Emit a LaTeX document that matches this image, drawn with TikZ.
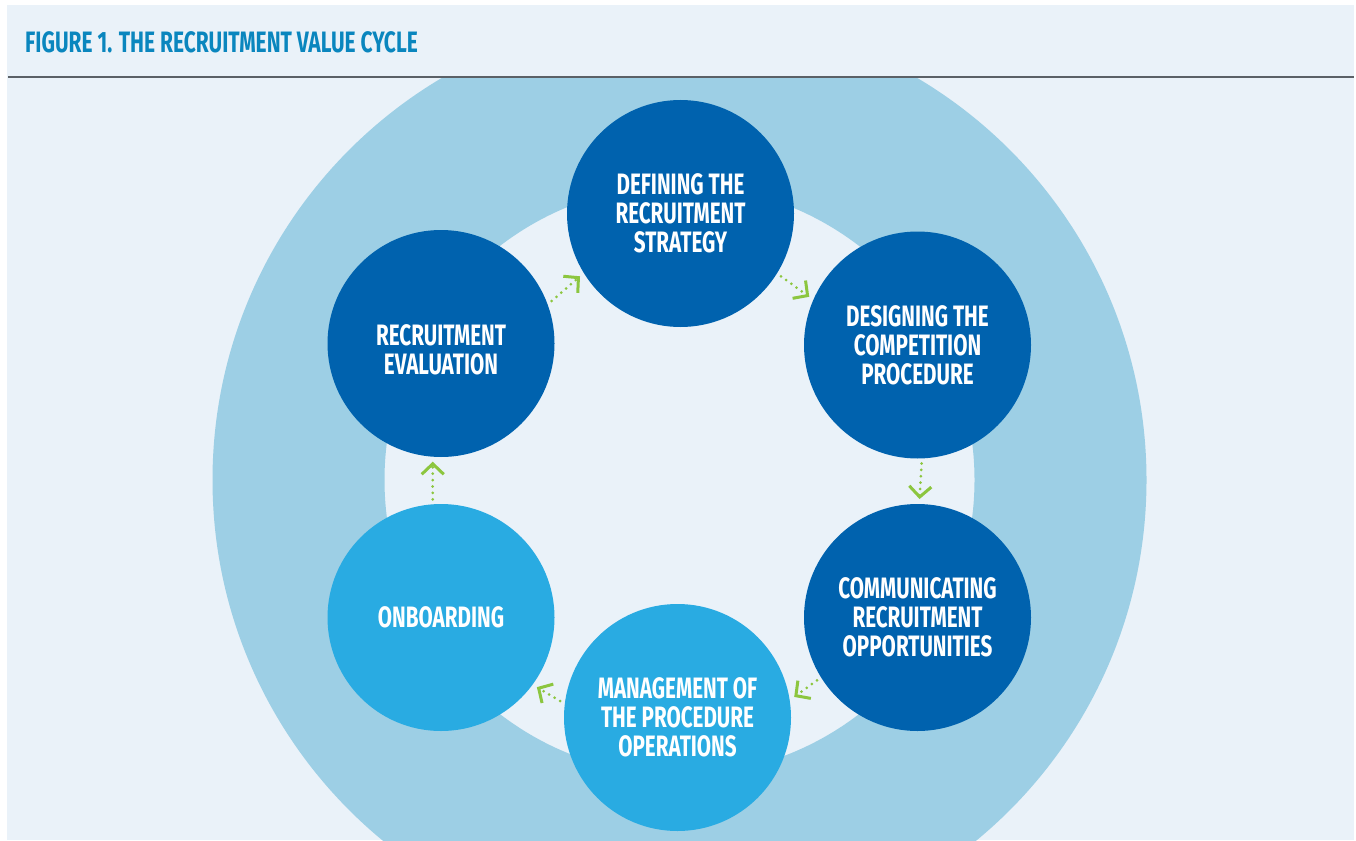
\documentclass[tikz,border=0pt]{standalone}
\usepackage{fontspec}
\setmainfont{Fira Sans}
\newfontfamily\condensed[FakeStretch=0.70]{Fira Sans}
\newfontfamily\headline[FakeStretch=0.71]{Fira Sans}
\usetikzlibrary{arrows.meta}
\definecolor{panel}{HTML}{EAF2F9}
\definecolor{ringblue}{HTML}{9DCFE5}
\definecolor{deepblue}{HTML}{0062AE}
\definecolor{skyblue}{HTML}{29ABE2}
\definecolor{titleblue}{HTML}{0A86BE}
\definecolor{leaf}{HTML}{8CC63F}
\definecolor{rulegray}{HTML}{5B6167}
\begin{document}
\begin{tikzpicture}[x=1pt,y=-1pt,
  stage/.style={circle, minimum size=227pt, inner sep=0pt, outer sep=5pt,
    text=white, align=center, font=\condensed\bfseries\fontsize{29.5}{29}\selectfont},
  early/.style={stage, fill=deepblue},
  late/.style={stage, fill=skyblue},
  flow/.style={leaf, line width=3pt, line cap=round, dash pattern=on 0pt off 6.4pt,
    -{Straight Barb[length=10.5pt,width=22pt,line width=3pt]}}]
\useasboundingbox (0,0) rectangle (1356,840);
% panel
\fill[white] (0,0) rectangle (1356,840);
\fill[panel] (7,5) rectangle (1354,840);
% outer ring
\begin{scope}
  \clip (7,78) rectangle (1354,840);
  \fill[ringblue, even odd rule] (679.5,480) circle[radius=467pt] (679.5,480) circle[radius=295pt];
\end{scope}
% header rule and title
\draw[rulegray, line width=2pt] (8,77.5) -- (1354,77.5);
\node[anchor=base west, inner sep=0pt, text=titleblue,
  font=\headline\bfseries\fontsize{29.5}{29}\selectfont] (title) at (25,52.5)
  {FIGURE 1. THE RECRUITMENT VALUE CYCLE};
% stages
\node[early] (def) at (680.5,213.5) {DEFINING THE\\RECRUITMENT\\STRATEGY};
\node[early] (des) at (917.5,345) {DESIGNING THE\\COMPETITION\\PROCEDURE};
\node[early] (com) at (917.5,617.5) {COMMUNICATING\\RECRUITMENT\\OPPORTUNITIES};
\node[late] (man) at (677.5,717.5) {MANAGEMENT OF\\THE PROCEDURE\\OPERATIONS};
\node[late] (onb) at (441,617.5) {ONBOARDING};
\node[early] (eva) at (441,343.5) {\rule{0pt}{34pt}RECRUITMENT\\EVALUATION};
% cycle arrows
\draw[flow] (def.-32.5) -- (des.156.4);
\draw[flow] (des.-88.8) -- (com.89.8);
\draw[flow] (com.-148.6) -- (man.10.3);
\draw[flow] (man.172.7) -- (onb.-36.3);
\draw[flow] (onb.94.8) -- (eva.-94.3);
\draw[flow] (eva.21) -- (def.-148.1);
\end{tikzpicture}
\end{document}
